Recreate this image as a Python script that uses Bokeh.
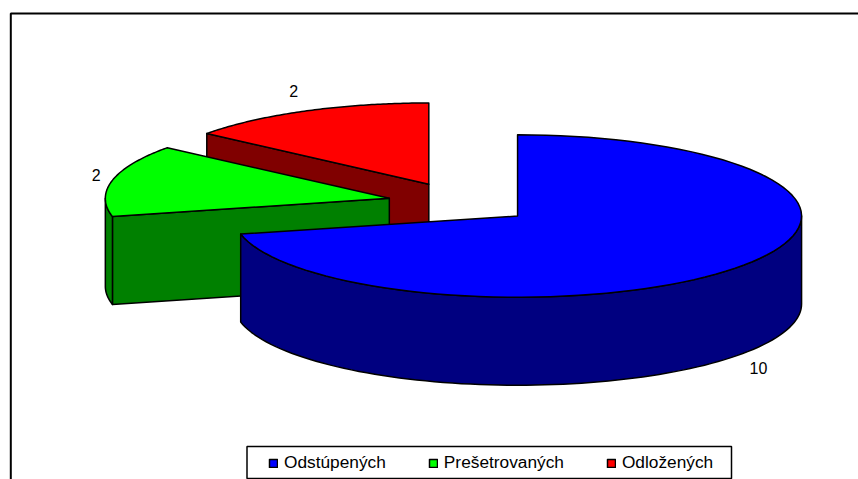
import numpy as np
from bokeh.embed import file_html
from bokeh.models import ColumnDataSource, Legend, LegendItem, Range1d
from bokeh.plotting import figure
from bokeh.resources import INLINE
from bokeh.core.properties import value

# --- chart data -------------------------------------------------------
categories = ["Odstúpených", "Prešetrovaných", "Odložených"]
counts = [10, 2, 2]
top_colors = ["#0000FF", "#00FF00", "#FF0000"]
side_colors = ["#000080", "#008000", "#800000"]

# --- projection of the exploded 3-D pie, in page pixels ---------------
CX, CY = 460.0, 202.5      # pie centre before explosion
RX, RATIO = 284.0, 0.286   # radius and vertical squash
EXPLODE = 73.0             # slice offset along its bisector
DEPTH = 88.0               # extrusion height
PW, PH = 858, 479          # figure size
LABEL_NUDGE = [1, 6, -2]   # horizontal fine-tuning of the value labels

p = figure(width=PW, height=PH, output_backend="svg", toolbar_location=None,
           x_range=Range1d(0, PW), y_range=Range1d(PH, 0),
           min_border=0, min_border_left=0, min_border_right=0,
           min_border_top=0, min_border_bottom=0,
           x_axis_location=None, y_axis_location=None)
p.grid.visible = False
p.outline_line_color = None
p.background_fill_color = "white"
p.border_fill_color = "white"

# chart frame
p.line([10.3, 10.3, 858], [479, 13, 13], line_color="black", line_width=2)


def proj(theta, cx, cy, r=RX):
    """Clockwise angle from 12 o'clock to page pixels."""
    return cx + r * np.sin(theta), cy - r * RATIO * np.cos(theta)


total = sum(counts)
fractions = np.array(counts) / total * 2 * np.pi
starts = np.concatenate(([0.0], np.cumsum(fractions)[:-1]))
ends = starts + fractions
mids = (starts + ends) / 2
centres = [proj(m, CX, CY, EXPLODE) for m in mids]

LINE = dict(line_color="black", line_width=1.5, line_join="round")
legend_items = [None] * 3

# Draw back to front: red, green, blue.
for i in (2, 1, 0):
    cx, cy = centres[i]
    a0, a1 = starts[i], ends[i]
    th = np.linspace(a0, a1, 90)
    rx, ry = proj(th, cx, cy)

    # radial wall at the slice's start angle, if it faces the viewer
    if np.pi < a0 < 2 * np.pi:
        ex, ey = proj(a0, cx, cy)
        p.patch([cx, ex, ex, cx], [cy, ey, ey + DEPTH, cy + DEPTH],
                fill_color=side_colors[i], **LINE)

    # outer wall: the part of the rim on the near side
    lo, hi = max(a0, np.pi / 2), min(a1, 3 * np.pi / 2)
    if lo < hi:
        wt = np.linspace(lo, hi, 90)
        wx, wy = proj(wt, cx, cy)
        p.patch(np.concatenate((wx, wx[::-1])),
                np.concatenate((wy, wy[::-1] + DEPTH)),
                fill_color=side_colors[i], **LINE)

    # top face
    r = p.patch(np.concatenate(([cx], rx)), np.concatenate(([cy], ry)),
                fill_color=top_colors[i], **LINE)
    legend_items[i] = LegendItem(label=value(categories[i]), renderers=[r])

# value labels
lx = [centres[i][0] + RX * 1.08 * np.sin(mids[i]) + LABEL_NUDGE[i] for i in range(3)]
ly = [centres[i][1] - RX * RATIO * 1.27 * np.cos(mids[i]) + (DEPTH if np.cos(mids[i]) < 0 else 0)
      for i in range(3)]
src = ColumnDataSource(dict(x=lx, y=ly, t=[str(c) for c in counts]))
p.text("x", "y", text="t", source=src, text_font=value("Liberation Sans"),
       text_font_size="16px", text_align="center", text_baseline="middle",
       text_color="black")

# legend box, wider than the legend's own uniform padding allows
p.quad(left=[246.5], right=[731], top=[446], bottom=[478],
       fill_color="white", line_color="black", line_width=1.5)

legend = Legend(items=legend_items, orientation="horizontal",
                location=(260, 6), glyph_width=10, glyph_height=10,
                label_standoff=6, spacing=42, padding=8, margin=0,
                label_text_font="Liberation Sans", label_text_font_size="17.3px",
                label_text_color="black", border_line_color=None,
                background_fill_alpha=0.0)
legend.location = (268, 6)
p.add_layout(legend, "center")

open("out.html", "w").write(file_html(p, INLINE))
